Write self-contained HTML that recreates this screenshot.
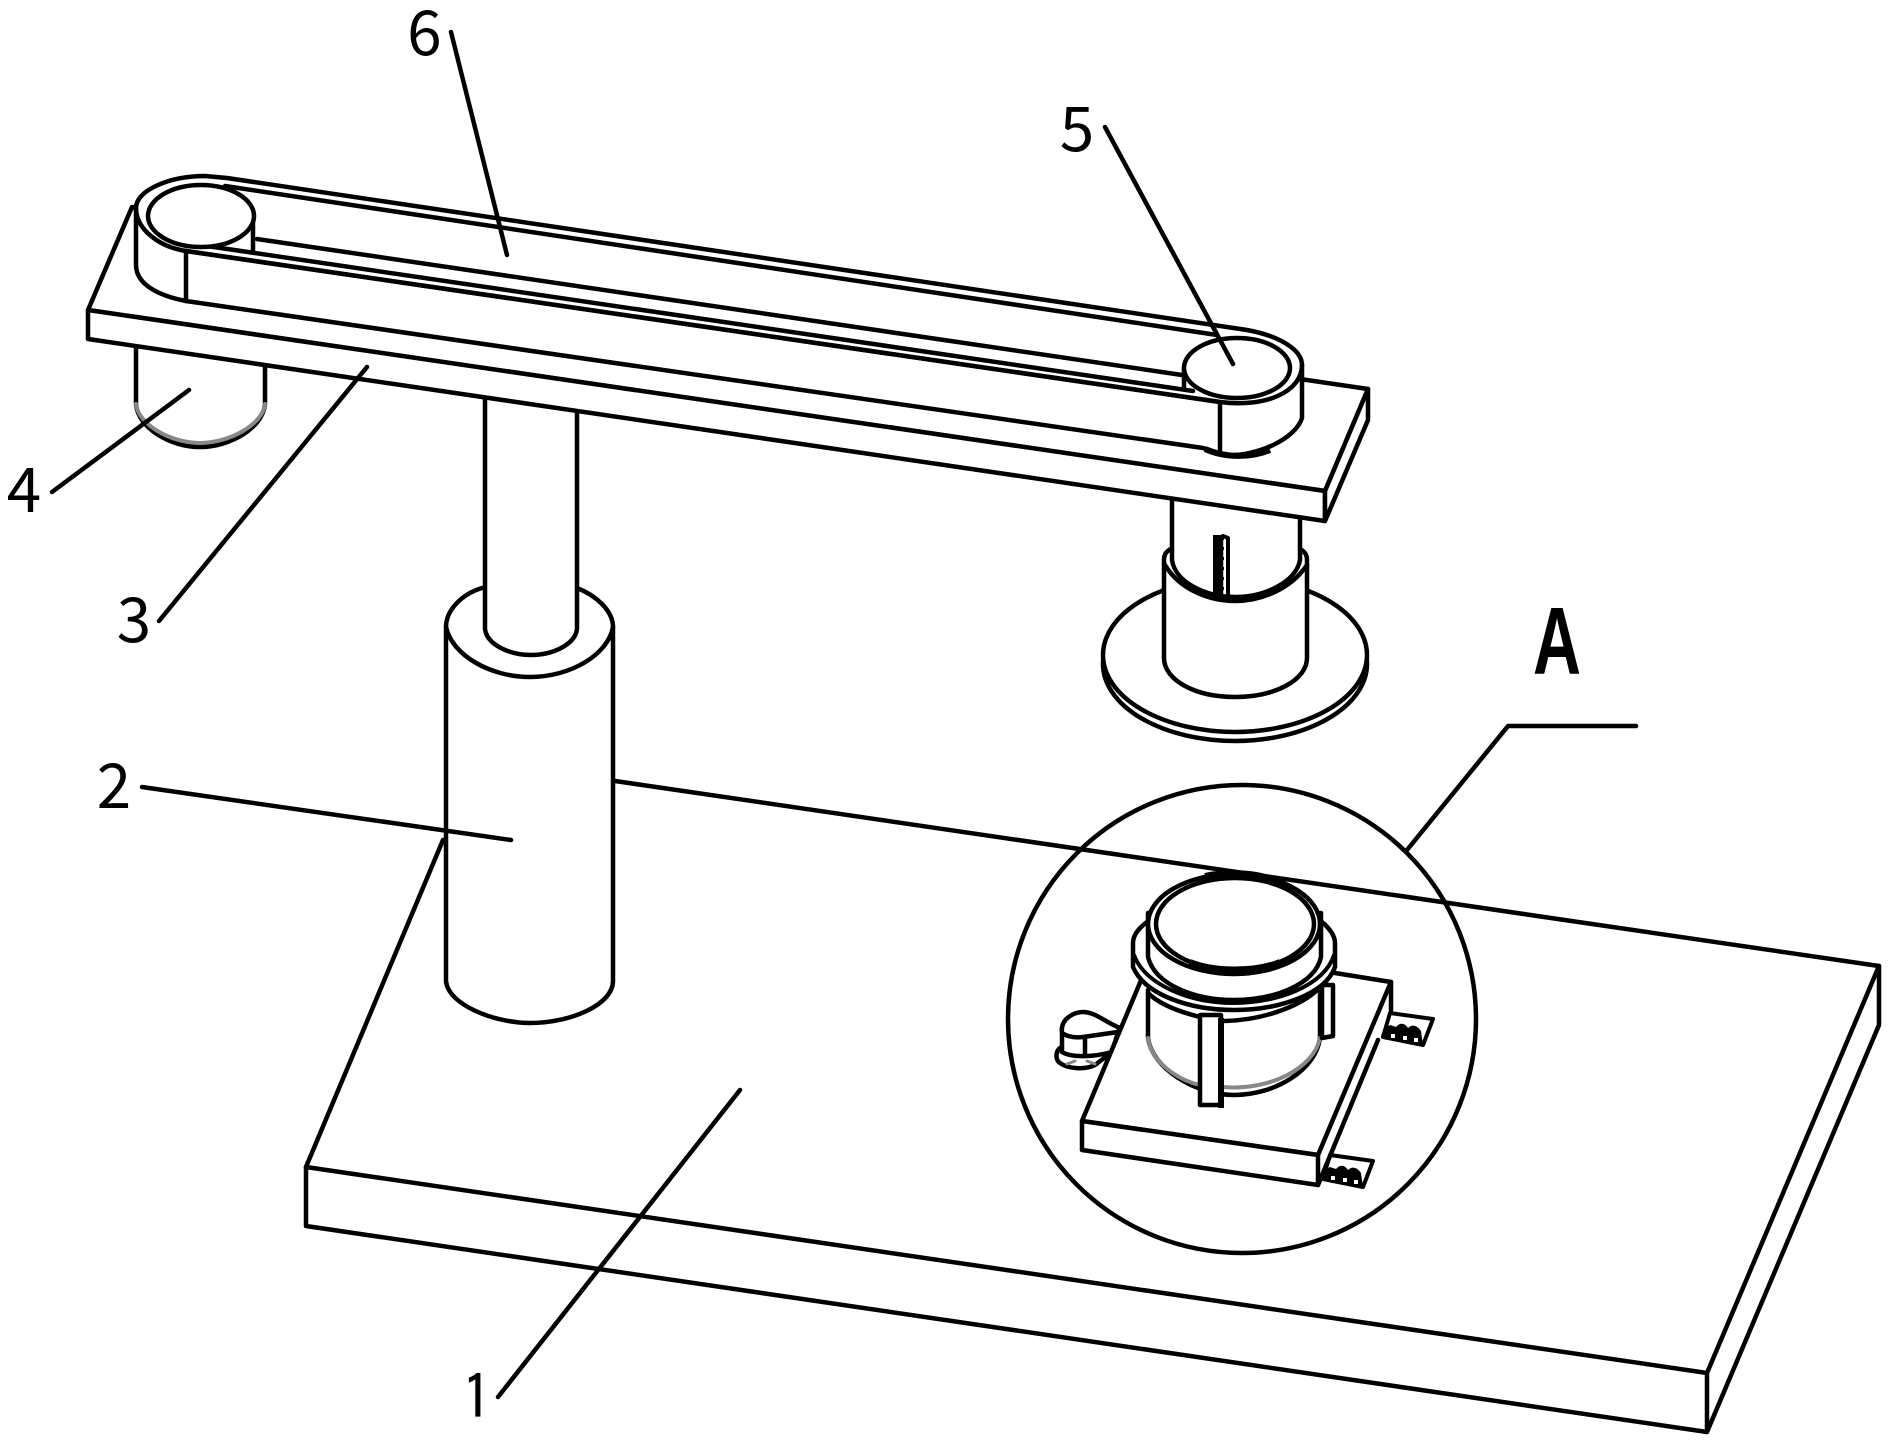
<!DOCTYPE html>
<html><head><meta charset="utf-8"><style>
html,body{margin:0;padding:0;background:#fff}
svg{display:block}
text{font-family:"Noto Sans CJK SC","Liberation Sans",sans-serif;fill:#000}
.l{fill:none;stroke:#000;stroke-width:4.5;stroke-linejoin:round;stroke-linecap:round}
.w{fill:#fff;stroke:#000;stroke-width:4.5;stroke-linejoin:round;stroke-linecap:round}
.g{fill:none;stroke:#888;stroke-width:4;stroke-linecap:round}
.t{stroke-width:4}
</style></head><body>
<svg width="1892" height="1443" viewBox="0 0 1892 1443" xmlns="http://www.w3.org/2000/svg">
<rect width="1892" height="1443" fill="#fff"/>

<!-- base plate -->
<path class="l" d="M443 840 L306 1167 L1707 1373 L1879 966 L615 781"/>
<path class="l" d="M306 1167 V1226 L1707 1432 L1879 1025 V966 M1707 1373 V1432"/>

<!-- lower cylinder + column -->
<path d="M446 627 V981 C446 1005 495 1023 530 1023 S613 1005 613 981 V627 C613 610 590 595 570 588 L482 588 C465 595 446 610 446 627 Z" fill="#fff"/>
<path class="l" d="M446 981 C448 1005 495 1023 530 1023 C570 1023 613 1005 613 981 V627 M446 981 V627"/>
<path class="l" d="M482 588 C462 594 446 610 446 627 C452 655 490 677 530 677 C570 677 608 655 613 627 C613 610 595 595 577 588"/>
<path class="w" d="M485 390 V629 C487 645 510 655 531 655 C552 655 575 645 577 629 V390"/>

<!-- motor 4 -->
<path class="w" d="M136 330 V404 C138 428 170 447 200 447 S263 428 265 404 V350"/>
<path class="g" d="M136 404 C138 424 170 443 200 443 S263 424 265 404"/>

<!-- right column below plate -->
<ellipse class="w" cx="1235" cy="664" rx="132" ry="77"/>
<ellipse class="w" cx="1235" cy="655" rx="132" ry="77"/>
<path class="w" d="M1164 560 V658 C1164 680 1195 697 1235 697 S1307 680 1307 658 V560 C1307 550 1300 542 1235 540 C1170 542 1164 550 1164 560 Z"/>
<path class="w" d="M1172 495 V560 C1175 582 1205 597 1235 597 S1296 582 1300 560 V505"/>
<path class="l" d="M1165 565 C1180 590 1210 601 1235 601 S1290 590 1307 565"/>
<rect x="1213" y="535" width="11" height="60" fill="#000"/>
<path d="M1224 540 V594" stroke="#fff" stroke-width="1.5" stroke-dasharray="7 3" fill="none"/>
<path class="l t" d="M1223 536 L1228 538 V597"/>

<!-- arm plate -->
<path class="w" d="M88 310 L132 207 L1368 389 L1325 491 Z"/>
<path class="w" d="M88 310 L1325 491 V521 L88 339 Z"/>
<path class="w" d="M1325 491 L1368 389 V420 L1325 521 Z"/>

<!-- belt -->
<path class="w" d="M136 208 C136 190 170 176 205 176 L227 178 L1247 330 C1280 336 1302 350 1302 365 V418 C1295 440 1255 457 1225 455 L1203 448 L186 301 C160 296 136 285 136 265 Z"/>
<path class="l" d="M136 208 C136 230 160 247 186 251 L1220 402 C1265 408 1302 392 1302 365"/>
<path class="l" d="M186 251 V301 M1220 402 V452"/>
<path class="l" d="M225 186 L1217 335"/>
<path class="l" d="M257 239 L1182 375"/>
<path class="l" d="M207 246 L1193 391"/>
<path class="l" d="M253 216 V252 M1184 368 V388"/>
<ellipse class="w" cx="201" cy="216" rx="53" ry="31"/>
<ellipse class="w" cx="1237" cy="368" rx="53" ry="30"/>
<path class="l" d="M186 251 L1220 402"/>
<path d="M1205 449 C1225 458 1250 458 1270 450" fill="none" stroke="#000" stroke-width="6"/>

<!-- circle detail -->
<circle cx="1242" cy="1019" r="234" class="l"/>

<!-- small part -->
<path class="w" d="M1062 1047 C1055 1050 1055 1060 1060 1063 C1068 1069 1085 1070 1095 1065 L1112 1052 L1085 1040 Z"/>
<path class="w" d="M1062 1033 C1060 1018 1075 1012 1083 1012 C1095 1012 1105 1022 1120 1028 L1118 1032 L1112 1052 C1090 1058 1070 1057 1062 1052 Z"/>
<path class="l" d="M1062 1033 C1068 1037 1075 1038 1083 1037 L1118 1032 M1085 1037 V1055"/>
<path class="g" d="M1067 1064 L1075 1061 M1087 1061 L1095 1064" style="stroke-width:3"/>

<!-- connectors -->
<g>
<path class="w t" d="M1390 1013 L1433 1019 L1423 1045 L1383 1037 Z"/>
<path d="M1381 1037 C1382 1030 1387 1027 1390 1025 L1396 1027 C1400 1022 1405 1023 1408 1028 C1412 1024 1417 1025 1421 1031 L1423 1046 Z" fill="#000"/>
<rect x="1391" y="1034" width="4" height="4" fill="#fff"/><rect x="1403" y="1036" width="4" height="4" fill="#fff"/><rect x="1414" y="1038" width="4" height="4" fill="#fff"/>
</g>
<g transform="translate(-60 142)">
<path class="w t" d="M1390 1013 L1433 1019 L1423 1045 L1383 1037 Z"/>
<path d="M1381 1037 C1382 1030 1387 1027 1390 1025 L1396 1027 C1400 1022 1405 1023 1408 1028 C1412 1024 1417 1025 1421 1031 L1423 1046 Z" fill="#000"/>
<rect x="1391" y="1034" width="4" height="4" fill="#fff"/><rect x="1403" y="1036" width="4" height="4" fill="#fff"/><rect x="1414" y="1038" width="4" height="4" fill="#fff"/>
</g>

<!-- inset plate -->
<path fill="#fff" d="M1082 1121 L1142 978 L1335 973 L1391 982 L1318 1155 Z"/>
<path class="l" d="M1082 1121 L1142 978 M1335 973 L1391 982 L1318 1155 L1082 1121"/>
<path class="w" d="M1082 1121 L1318 1155 V1185 L1082 1150 Z"/>
<path class="l" d="M1318 1185 L1378 1040 M1391 982 V1010"/>

<!-- inset body -->
<path d="M1148 990 V1038 C1152 1068 1195 1095 1234 1095 C1275 1095 1316 1070 1320 1038 V990 Z" fill="#fff"/>
<path class="l" d="M1148 990 V1038 C1152 1068 1195 1095 1234 1095 C1275 1095 1316 1070 1320 1038 V990"/>
<path class="g" d="M1148 1038 C1151 1062 1178 1080 1200 1085 M1223 1087 C1270 1091 1314 1068 1320 1038"/>
<path class="w" d="M1322 985 V1038 L1333 1036 V985 Z"/>
<path class="l" d="M1148 993 C1160 1005 1180 1012 1200 1017 M1225 1021 C1265 1020 1305 1005 1322 985"/>
<path class="w" d="M1200 1015 H1221 V1105 H1200 Z"/>
<path d="M1221 1018 V1108" stroke="#000" stroke-width="6" fill="none"/>

<!-- flange -->
<path class="w" d="M1147 922 C1139 928 1133 935 1133 943 V967 C1145 995 1190 1010 1234 1010 S1325 995 1335 967 V943 C1335 935 1329 928 1322 922 Z"/>
<path class="l t" d="M1134 955 C1145 985 1190 1003 1234 1003 S1325 985 1334 955"/>
<path class="w" d="M1148 913 V957 C1155 985 1195 1000 1234 1000 S1315 985 1321 957 V913 Z"/>
<ellipse class="w" cx="1234" cy="924" rx="86" ry="50"/>
<ellipse class="w" cx="1235" cy="924" rx="79" ry="46"/>
<path d="M1190 962 C1215 972 1255 972 1280 962" fill="none" stroke="#000" stroke-width="6"/>
<path d="M1205 876 C1222 872 1248 872 1265 877" fill="none" stroke="#000" stroke-width="6"/>

<!-- leaders -->
<path class="l" d="M451 32 L507 255"/>
<path class="l" d="M1105 127 L1233 364"/>
<path class="l" d="M52 492 L189 390"/>
<path class="l" d="M159 621 L367 367"/>
<path class="l" d="M142 787 L511 840"/>
<path class="l" d="M498 1397 L740 1090"/>
<path class="l" d="M1407 850 L1508 726 H1636"/>

<!-- labels -->
<text x="424.5" y="55" font-size="62" text-anchor="middle">6</text>
<text x="1077" y="151" font-size="62" text-anchor="middle">5</text>
<text x="24" y="512" font-size="62" text-anchor="middle">4</text>
<text x="134" y="642" font-size="62" text-anchor="middle">3</text>
<text x="114" y="808" font-size="62" text-anchor="middle">2</text>
<text x="477" y="1420" font-size="62" text-anchor="middle" style="font-family:'IPAGothic','Noto Sans CJK SC',sans-serif">1</text>
<text x="1533" y="674" font-size="96" font-weight="bold" textLength="48" lengthAdjust="spacingAndGlyphs" style="font-family:'Liberation Sans',sans-serif">A</text>
</svg>
</body></html>
